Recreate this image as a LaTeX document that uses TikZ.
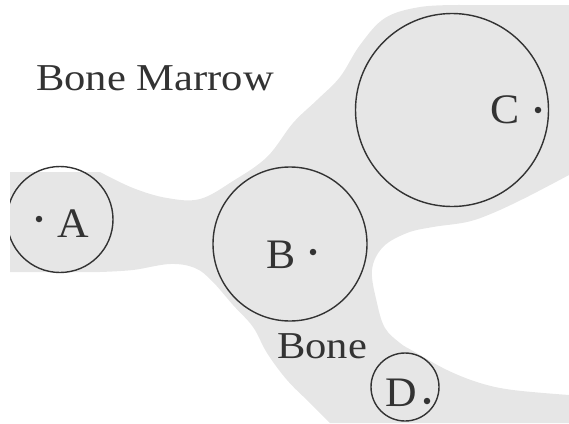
\documentclass[tikz,border=0pt]{standalone}
\usepackage{fontspec}
\newfontfamily\labfont[FakeStretch=1.12]{Liberation Serif}
\newfontfamily\letfont[FakeStretch=1.04]{Liberation Serif}
\definecolor{bonegray}{HTML}{E6E6E6}
\definecolor{inkgray}{HTML}{333333}
\tikzset{
  bonefill/.style={fill=bonegray, draw=none},
  ring/.style={circle, draw=inkgray, line width=1.4pt, inner sep=0pt},
  spot/.style={circle, fill=inkgray, inner sep=0pt, minimum size=6.5pt},
  lbl/.style={anchor=base west, inner sep=0pt, text=inkgray, font=\labfont\fontsize{38}{38}\selectfont},
  letter/.style={anchor=base west, inner sep=0pt, text=inkgray, font=\letfont\fontsize{42}{42}\selectfont}
}
\begin{document}
\begin{tikzpicture}[x=1pt,y=-1pt]
\useasboundingbox (0,0) rectangle (569,423);
% bone region
\fill[bonefill] (10,172) -- (100,172)
  -- plot[smooth, tension=0.6] coordinates {(100,172) (133,188) (167,198) (200,199) (233,181) (267,157) (293,123) (317,100) (340,77) (360,45) (385,18) (420,7) (460,5)}
  -- (569,5) -- (569,175)
  -- plot[smooth, tension=0.6] coordinates {(569,175) (527,197) (493,213) (467,222) (433,227) (407,233) (383,247) (372,270) (377,303) (385,328) (400,343) (413,351) (447,370) (480,383) (513,390) (569,395)}
  -- (569,423) -- (330,423)
  -- plot[smooth, tension=0.6] coordinates {(330,423) (310,403) (287,380) (267,353) (253,327) (233,305) (212,281) (195,268) (170,264) (133,270) (100,272)}
  -- (10,272) -- cycle;
% circles
\begin{scope}
\clip (10,0) rectangle (569,423);
\node[ring, minimum size=106pt] (cA) at (60,219.5) {};
\end{scope}
\node[ring, minimum size=154pt] (cB) at (290,244) {};
\node[ring, minimum size=193pt] (cC) at (452,110) {};
\node[ring, minimum size=68pt] (cD) at (405,387) {};
% dots
\node[spot] (dA) at (39,219) {};
\node[spot] (dB) at (313,252) {};
\node[spot] (dC) at (538,110) {};
\node[spot] (dD) at (427,401) {};
% letters
\node[letter] (tA) at (57,237) {A};
\node[letter] (tB) at (266,268) {B};
\node[letter] (tC) at (490,123) {C};
\node[letter] (tD) at (385,406) {D};
% labels
\node[lbl] (marrow) at (36,90) {Bone Marrow};
\node[lbl] (bone) at (277,358) {Bone};
\end{tikzpicture}
\end{document}
